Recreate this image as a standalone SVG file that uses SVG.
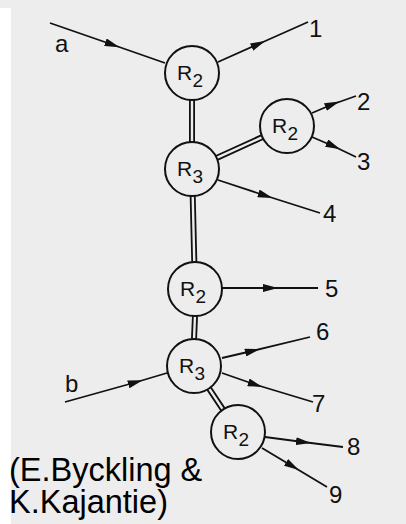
<svg xmlns="http://www.w3.org/2000/svg" width="406" height="524" viewBox="0 0 406 524">
<defs>
<style>
.bg{fill:#ededed}
.node circle{fill:none;stroke:#111;stroke-width:2}
.node text{font-family:"Liberation Sans",Arial,sans-serif;fill:#111}
.node .rr{font-size:21px}
.node .ss{font-size:19px}
.edge{fill:none;stroke:#111;stroke-width:1.8;marker-mid:url(#ah)}
.dbl-o{fill:none;stroke:#111;stroke-width:6}
.dbl-i{fill:none;stroke:#ededed;stroke-width:2.4}
.lbl{font-family:"Liberation Sans",Arial,sans-serif;font-size:24px;fill:#111}
.cap{font-family:"Liberation Sans",Arial,sans-serif;font-size:32.5px;fill:#000}
</style>
<marker id="ah" viewBox="0 0 15 8" refX="7" refY="4" markerWidth="15" markerHeight="8" markerUnits="userSpaceOnUse" orient="auto">
<path d="M0,0 L15,4 L0,8 Z" fill="#111"/>
</marker>
</defs>
<rect class="bg" x="0" y="0" width="406" height="524"/>
<rect x="0" y="8" width="11" height="516" fill="#ffffff"/>
<g id="connectors">
<path class="edge" d="M50,23 L112,44.5 L165,63"/>
<path class="edge" d="M218,62 L258,44.2 L308,22"/>
<path class="edge" d="M312,113 L332,104.5 L356,96"/>
<path class="edge" d="M312,137 L333,146 L356,157"/>
<path class="edge" d="M218,180 L265,195.5 L320,213"/>
<path class="edge" d="M222,288 L270,288 L318,288"/>
<path class="edge" d="M222,358 L252,351 L310,337"/>
<path class="edge" d="M222,373 L255,384.5 L313,402"/>
<path class="edge" d="M65,402 L135,382.5 L167,373"/>
<path class="edge" d="M265,437 L303,442 L343,447"/>
<path class="edge" d="M262,448 L292,466 L327,487"/>
<g id="double-bonds">
<path class="dbl-o" d="M192,100 L192,143 M216.6,157.9 L262.4,137.1 M192.7,196 L194.3,262 M195,316 L194,339 M209,388.5 L223,409.5"/>
<path class="dbl-i" d="M192,99 L192,144 M215.6,158.3 L263.4,136.7 M192.7,195 L194.3,263 M195,315 L194,340 M208.5,387.7 L223.5,410.3"/>
</g>
</g>
<g id="n1" class="node"><circle cx="192" cy="73" r="27"/><text class="rr" x="177" y="80">R</text><text class="ss" x="192.5" y="87">2</text></g>
<g id="n2" class="node"><circle cx="287" cy="126" r="27"/><text class="rr" x="272" y="133">R</text><text class="ss" x="287.5" y="140">2</text></g>
<g id="n3" class="node"><circle cx="192" cy="169" r="27"/><text class="rr" x="177" y="176">R</text><text class="ss" x="192.5" y="183">3</text></g>
<g id="n4" class="node"><circle cx="195" cy="289" r="27"/><text class="rr" x="180" y="296">R</text><text class="ss" x="195.5" y="303">2</text></g>
<g id="n5" class="node"><circle cx="194" cy="366" r="27"/><text class="rr" x="179" y="373">R</text><text class="ss" x="194.5" y="380">3</text></g>
<g id="n6" class="node"><circle cx="238" cy="432" r="27"/><text class="rr" x="223" y="439">R</text><text class="ss" x="238.5" y="446">2</text></g>
<g id="labels">
<text class="lbl" x="55" y="52">a</text>
<text class="lbl" x="65" y="392">b</text>
<text class="lbl" x="309" y="37">1</text>
<text class="lbl" x="357" y="110">2</text>
<text class="lbl" x="357" y="170">3</text>
<text class="lbl" x="323" y="222">4</text>
<text class="lbl" x="325" y="297">5</text>
<text class="lbl" x="316" y="340">6</text>
<text class="lbl" x="312" y="412">7</text>
<text class="lbl" x="347" y="455">8</text>
<text class="lbl" x="329" y="503">9</text>
</g>
<g id="caption">
<text class="cap" x="9" y="481">(E.Byckling &amp;</text>
<text class="cap" x="9" y="513">K.Kajantie)</text>
</g>
</svg>
